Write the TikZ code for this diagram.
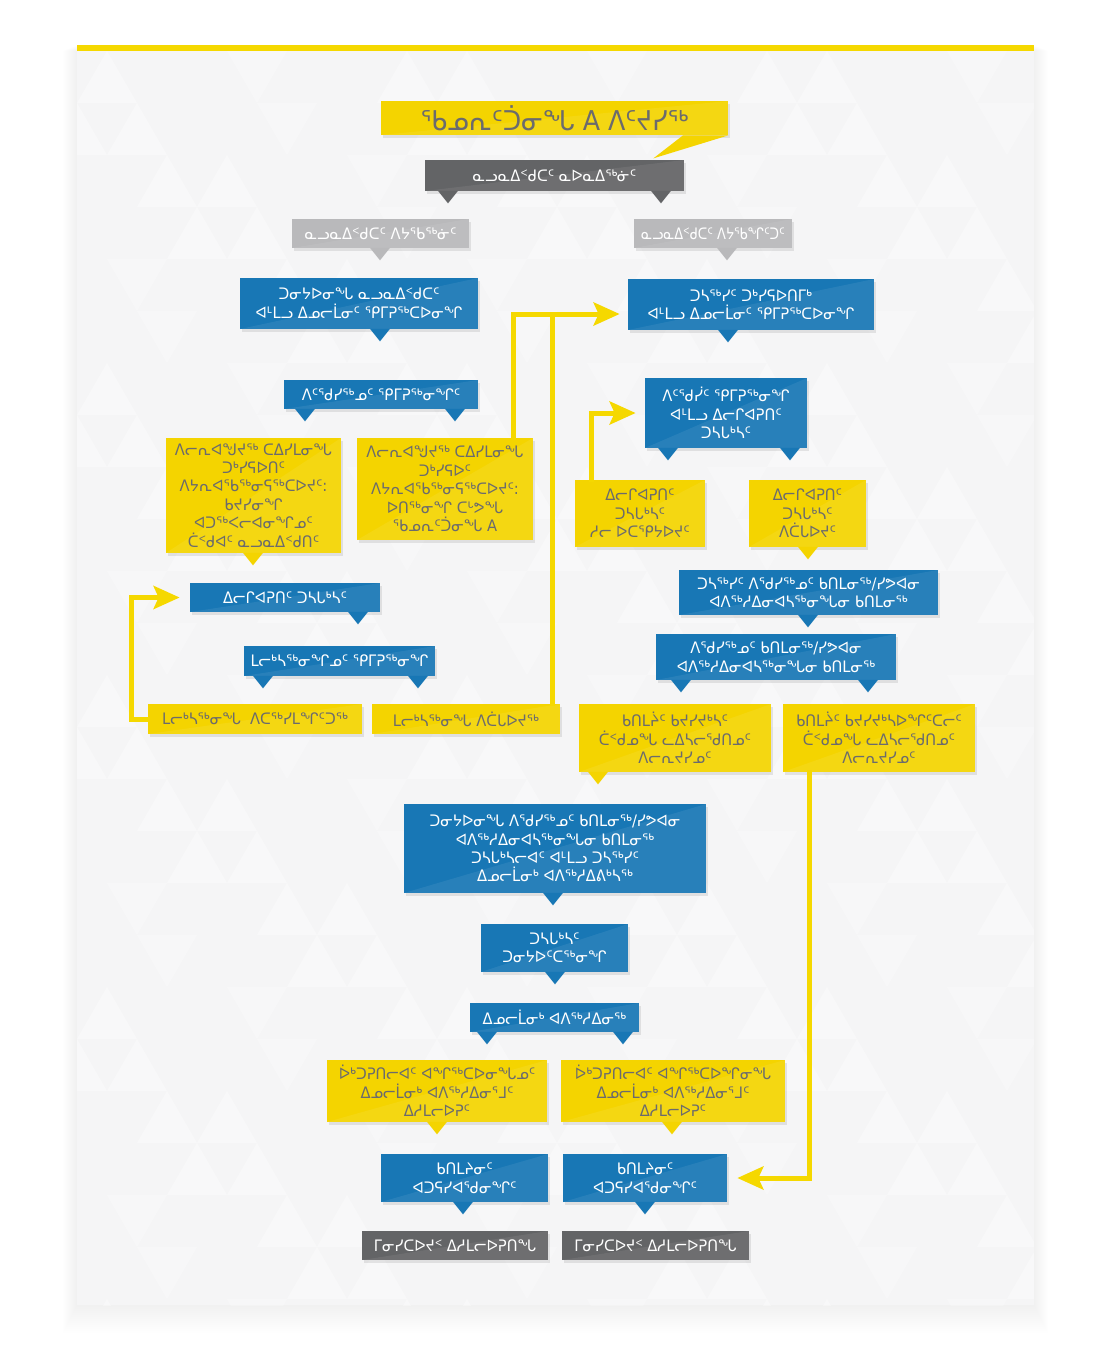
\documentclass[tikz,border=0pt]{standalone}
\usepackage{fontspec}
\usepackage{tikz}
\usetikzlibrary{arrows.meta}
\usetikzlibrary{shadows}
\newfontfamily\syl[FakeStretch=0.93]{DejaVu Sans}
\newfontfamily\sylnarrow[FakeStretch=0.82]{DejaVu Sans}
\definecolor{blu}{HTML}{1877B5}
\definecolor{yel}{HTML}{F4D400}
\definecolor{dgr}{HTML}{636466}
\definecolor{lgr}{HTML}{B9B9BB}
\definecolor{txtg}{HTML}{6B6B6D}
\definecolor{arrowyel}{HTML}{F5D800}
\definecolor{panel}{HTML}{F5F5F6}
\tikzset{
  card/.style={inner sep=0pt, align=center, font=\syl\fontsize{9}{10.5}\selectfont,
    drop shadow={shadow xshift=0.03cm, shadow yshift=-0.05cm, opacity=0.18},
    path picture={\fill[white,opacity=0.07] (path picture bounding box.north east)
      -- (path picture bounding box.south east) -- (path picture bounding box.south west) -- cycle;}},
  bluecard/.style={card, fill=blu, text=white},
  yelcard/.style={card, fill=yel, text=txtg},
  dgcard/.style={card, fill=dgr, text=white},
  lgcard/.style={card, fill=lgr, text=white},
  wh/.style 2 args={minimum width=#1*0.02cm, minimum height=#2*0.02cm},
  yline/.style={draw=arrowyel, line width=0.1cm, line cap=rect},
  yarr/.style={yline, -{Stealth[length=0.52cm,width=0.46cm,inset=0.1cm]}},
}
% little pointer under a card: colour, x, node
\newcommand{\bubtail}[3]{\fill[#1] (#3.south -| #2,0) ++(-10,-0.5) -- ++(20,0) -- ++(-10,12.5) -- cycle;}
\begin{document}
\begin{tikzpicture}[x=0.02cm,y=-0.02cm]
\useasboundingbox (0,0) rectangle (1101,1347);
\fill[white] (0,0) rectangle (1101,1347);
% panel with soft shadow
\foreach \i in {1,...,14}
  \fill[black,opacity=0.005] (77-\i,45+\i*0.4) rectangle (1034+\i,1305+\i*2);
\fill[panel] (77,45) rectangle (1034,1305);
% faint triangle texture
\begin{scope}
\clip (77,51) rectangle (1034,1305);
\foreach \r in {0,...,24}
  \foreach \c in {0,...,17} {
    \pgfmathtruncatemacro\k{mod(\r*7+\c*11,6)}
    \pgfmathsetmacro\xo{77+\c*60-mod(\r,2)*30}
    \pgfmathsetmacro\yo{51+\r*52}
    \ifnum\k<2 \fill[white,opacity=0.35] (\xo,\yo) ++(0,52) -- ++(60,0) -- ++(-30,-52) -- cycle; \fi
    \ifnum\k=4 \fill[white,opacity=0.25] (\xo,\yo) ++(30,0) -- ++(60,0) -- ++(-30,52) -- cycle; \fi
  }
\end{scope}
\fill[arrowyel] (77,45) rectangle (1034,51);

% title
\node[card, fill=yel, text=txtg, wh={347}{34}, font=\syl\fontsize{15.5}{18}\selectfont] (ttl) at (554.5,118) {ᖃᓄᕆᑦᑑᓂᖓ A ᐱᑦᔪᓯᖅ};
\fill[yel] (ttl.south -| 683,0) -- (ttl.south east) -- ++(-75,23) -- cycle;

\node[dgcard, wh={259}{31}] (dg1) at (554.5,175.5) {ᓇᓗᓇᐃᑉᑯᑕᑦ ᓇᐅᓇᐃᖅᓃᑦ};
\node[lgcard, wh={177}{29}] (lg1) at (380.5,233.5) {ᓇᓗᓇᐃᑉᑯᑕᑦ ᐱᔭᖃᖅᓃᑦ};
\node[lgcard, wh={158}{29}, font=\sylnarrow\fontsize{9}{10.5}\selectfont] (lg2) at (713,233.5) {ᓇᓗᓇᐃᑉᑯᑕᑦ ᐱᔭᖃᖏᑦᑐᑦ};

\node[bluecard, wh={238}{51}] (b1) at (359,303.5) {ᑐᓂᔭᐅᓂᖓ ᓇᓗᓇᐃᑉᑯᑕᑦ\\ᐊᒻᒪᓗ ᐃᓄᓕᒫᓂᑦ ᕿᒥᕈᖅᑕᐅᓂᖏ};
\node[bluecard, wh={246}{51}] (b2) at (751,304.5) {ᑐᓴᖅᓯᑦ ᑐᒃᓯᕋᐅᑎᒥᒃ\\ᐊᒻᒪᓗ ᐃᓄᓕᒫᓂᑦ ᕿᒥᕈᖅᑕᐅᓂᖏ};
\node[bluecard, wh={194}{29}] (b3) at (381,394.5) {ᐱᑦᖁᓯᖅᓄᑦ ᕿᒥᕈᖅᓂᖏᑦ};
\node[bluecard, wh={162}{70}] (b4) at (726,413) {ᐱᑦᖁᓰᑦ ᕿᒥᕈᖅᓂᖏ\\ᐊᒻᒪᓗ ᐃᓕᒋᐊᕈᑎᑦ\\ᑐᓴᒐᒃᓴᑦ};

\node[yelcard, wh={175}{115}] (y1) at (253.5,495.5) {ᐱᓕᕆᐊᖑᔪᖅ ᑕᐃᓯᒪᓂᖓ\\ᑐᒃᓯᕋᐅᑎᑦ\\ᐱᔭᕆᐊᖃᖅᓂᕋᖅᑕᐅᔪᑦ:\\ᑲᔪᓯᓂᖏ\\ᐊᑐᖅᐸᓕᐊᓂᖏᓄᑦ\\ᑖᑉᑯᐊᑦ ᓇᓗᓇᐃᑉᑯᑎᑦ};
\node[yelcard, wh={176}{102}] (y2) at (445,489) {ᐱᓕᕆᐊᖑᔪᖅ ᑕᐃᓯᒪᓂᖓ\\ᑐᒃᓯᕋᐅᑦ\\ᐱᔭᕆᐊᖃᖅᓂᕋᖅᑕᐅᔪᑦ:\\ᐅᑎᖅᓂᖏ ᑕᒡᕗᖓ\\ᖃᓄᕆᑦᑑᓂᖓ A};
\node[yelcard, wh={130}{67}] (y3) at (640,513.5) {ᐃᓕᒋᐊᕈᑎᑦ\\ᑐᓴᒐᒃᓴᑦ\\ᓱᓕ ᐅᑕᕿᔭᐅᔪᑦ};
\node[yelcard, wh={117}{67}] (y4) at (807.5,513.5) {ᐃᓕᒋᐊᕈᑎᑦ\\ᑐᓴᒐᒃᓴᑦ\\ᐱᑖᒐᐅᔪᑦ};

\node[bluecard, wh={190}{29}] (b5) at (285,597.5) {ᐃᓕᒋᐊᕈᑎᑦ ᑐᓴᒐᒃᓴᑦ};
\node[bluecard, wh={191}{30}] (b6) at (339.5,661) {ᒪᓕᒃᓴᖅᓂᖏᓄᑦ ᕿᒥᕈᖅᓂᖏ};
\node[yelcard, wh={214}{30}] (y5) at (255,719) {ᒪᓕᒃᓴᖅᓂᖓ\ \ ᐱᑕᖅᓯᒪᖏᑦᑐᖅ};
\node[yelcard, wh={188}{30}] (y6) at (466,719) {ᒪᓕᒃᓴᖅᓂᖓ ᐱᑖᒐᐅᔪᖅ};

\node[bluecard, wh={259}{45}] (b7) at (808.5,592.5) {ᑐᓴᖅᓯᑦ ᐱᖁᓯᖅᓄᑦ ᑲᑎᒪᓂᖅ/ᓯᕗᐊᓂ\\ᐊᐱᖅᓱᐃᓂᐊᓴᖅᓂᖓᓂ ᑲᑎᒪᓂᖅ};
\node[bluecard, wh={240}{46}] (b8) at (776,657) {ᐱᖁᓯᖅᓄᑦ ᑲᑎᒪᓂᖅ/ᓯᕗᐊᓂ\\ᐊᐱᖅᓱᐃᓂᐊᓴᖅᓂᖓᓂ ᑲᑎᒪᓂᖅ};
\node[yelcard, wh={192}{68}] (y7) at (675,738) {ᑲᑎᒪᔩᑦ ᑲᔪᓯᔪᒃᓴᑦ\\ᑖᑉᑯᓄᖓ ᓚᐃᓴᓕᖁᑎᓄᑦ\\ᐱᓕᕆᔪᓯᓄᑦ};
\node[yelcard, wh={192}{68}] (y8) at (879,738) {ᑲᑎᒪᔩᑦ ᑲᔪᓯᔪᒃᓴᐅᖏᑦᑕᓕᑦ\\ᑖᑉᑯᓄᖓ ᓚᐃᓴᓕᖁᑎᓄᑦ\\ᐱᓕᕆᔪᓯᓄᑦ};

\node[bluecard, wh={302}{89}] (b9) at (555,848.5) {ᑐᓂᔭᐅᓂᖓ ᐱᖁᓯᖅᓄᑦ ᑲᑎᒪᓂᖅ/ᓯᕗᐊᓂ\\ᐊᐱᖅᓱᐃᓂᐊᓴᖅᓂᖓᓂ ᑲᑎᒪᓂᖅ\\ᑐᓴᒐᒃᓴᓕᐊᑦ ᐊᒻᒪᓗ ᑐᓴᖅᓯᑦ\\ᐃᓄᓕᒫᓂᒃ ᐊᐱᖅᓱᐃᕕᒃᓴᖅ};
\node[bluecard, wh={147}{48}] (b10) at (554.5,948) {ᑐᓴᒐᒃᓴᑦ\\ᑐᓂᔭᐅᑦᑕᖅᓂᖏ};
\node[bluecard, wh={169}{29}] (b11) at (554.5,1017.5) {ᐃᓄᓕᒫᓂᒃ ᐊᐱᖅᓱᐃᓂᖅ};
\node[yelcard, wh={220}{62}] (y9) at (437,1091) {ᐆᒃᑐᕈᑎᓕᐊᑦ ᐊᖏᖅᑕᐅᓂᖓᓄᑦ\\ᐃᓄᓕᒫᓂᒃ ᐊᐱᖅᓱᐃᓂᕐᒧᑦ\\ᐃᓱᒪᓕᐅᕈᑦ};
\node[yelcard, wh={224}{62}] (y10) at (673,1091) {ᐆᒃᑐᕈᑎᓕᐊᑦ ᐊᖏᖅᑕᐅᖏᓂᖓ\\ᐃᓄᓕᒫᓂᒃ ᐊᐱᖅᓱᐃᓂᕐᒧᑦ\\ᐃᓱᒪᓕᐅᕈᑦ};
\node[bluecard, wh={167}{48}] (b12) at (464.5,1178) {ᑲᑎᒪᔨᓂᑦ\\ᐊᑐᕋᓯᐊᖁᓂᖏᑦ};
\node[bluecard, wh={164}{48}] (b13) at (645,1178) {ᑲᑎᒪᔨᓂᑦ\\ᐊᑐᕋᓯᐊᖁᓂᖏᑦ};
\node[dgcard, wh={186}{29}] (dg2) at (455,1245.5) {ᒥᓂᓯᑕᐅᔪᑉ ᐃᓱᒪᓕᐅᕈᑎᖓ};
\node[dgcard, wh={187}{29}] (dg3) at (655.5,1245.5) {ᒥᓂᓯᑕᐅᔪᑉ ᐃᓱᒪᓕᐅᕈᑎᖓ};

% pointers
\bubtail{dgr}{448}{dg1}
\bubtail{dgr}{661}{dg1}
\bubtail{lgr}{380}{lg1}
\bubtail{lgr}{727}{lg2}
\bubtail{blu}{380}{b1}
\bubtail{blu}{728}{b2}
\bubtail{blu}{305}{b3}
\bubtail{blu}{455}{b3}
\bubtail{blu}{668}{b4}
\bubtail{blu}{790}{b4}
\bubtail{yel}{253}{y1}
\bubtail{yel}{808}{y4}
\bubtail{blu}{358}{b5}
\bubtail{blu}{263}{b6}
\bubtail{blu}{418}{b6}
\bubtail{blu}{808}{b7}
\bubtail{blu}{681}{b8}
\bubtail{blu}{868}{b8}
\bubtail{yel}{598}{y7}
\bubtail{blu}{553}{b9}
\bubtail{blu}{555}{b10}
\bubtail{blu}{487}{b11}
\bubtail{blu}{623}{b11}
\bubtail{yel}{437}{y9}
\bubtail{yel}{672}{y10}
\bubtail{blu}{463}{b12}
\bubtail{blu}{645}{b13}

% yellow connectors
\coordinate (jn) at ([yshift=-0.19cm]b2.west);
\draw[yline] (y6.north -| 552,0) -- (jn -| 552,0);
\draw[yarr] (y2.north -| 513,0) |- ([xshift=-0.16cm]jn);
\draw[yarr] (y3.north -| 591,0) |- ([xshift=-0.18cm]b4.west);
\draw[yarr] (y5.west) -- ++(-16,0) |- ([xshift=-0.2cm]b5.west);
\draw[yarr] (y8.south -| 809,0) |- ([xshift=0.2cm]b13.east);
\end{tikzpicture}
\end{document}
